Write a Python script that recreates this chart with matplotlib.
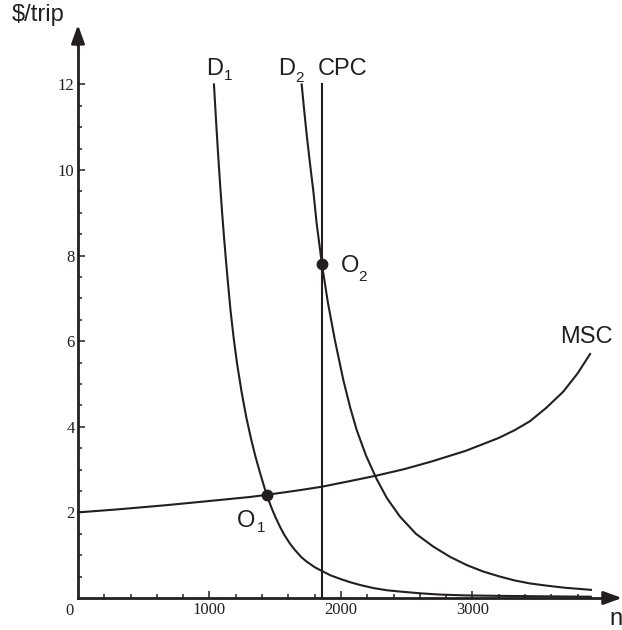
#!/usr/bin/env python3
"""Congestion diagram: two demand curves, MSC and a vertical CPC line."""

import numpy as np
import matplotlib

matplotlib.use("Agg")
import matplotlib.pyplot as plt

# values (x = trips, y = $/trip)
D1_X = [1034, 1050, 1065, 1080, 1095, 1110, 1125, 1140, 1160, 1184, 1210,
        1245, 1280, 1316, 1350, 1384, 1410, 1435, 1470, 1500, 1535, 1570,
        1612, 1650, 1700, 1739, 1800, 1855, 1920, 2000, 2068, 2150, 2250,
        2350, 2450, 2600, 2750, 2950, 3200, 3500, 3900]
D1_Y = [12.0, 11.15, 10.4, 9.7, 9.05, 8.45, 7.9, 7.38, 6.72, 6.07, 5.47,
        4.8, 4.22, 3.72, 3.3, 2.93, 2.66, 2.41, 2.12, 1.9, 1.67, 1.47,
        1.27, 1.12, 0.95, 0.85, 0.72, 0.63, 0.53, 0.44, 0.37, 0.30, 0.23,
        0.18, 0.15, 0.11, 0.08, 0.06, 0.05, 0.04, 0.03]

D2_X = [1701, 1720, 1740, 1764, 1790, 1815, 1835, 1855, 1900, 1954, 2018,
        2070, 2119, 2190, 2271, 2350, 2449, 2570, 2702, 2830, 2956, 3080,
        3209, 3320, 3437, 3560, 3700, 3901]
D2_Y = [12.0, 11.4, 10.8, 10.16, 9.5, 8.75, 8.28, 7.80, 6.91, 6.02, 5.09,
        4.45, 3.93, 3.33, 2.78, 2.33, 1.90, 1.50, 1.20, 0.96, 0.77, 0.62,
        0.50, 0.41, 0.34, 0.29, 0.24, 0.19]

MSC_X = [0, 300, 677, 1011, 1308, 1435, 1688, 1855, 2050, 2271, 2480,
         2690, 2950, 3200, 3320, 3437, 3560, 3690, 3800, 3894]
MSC_Y = [2.0, 2.07, 2.17, 2.27, 2.36, 2.41, 2.52, 2.60, 2.72, 2.86, 3.01,
         3.19, 3.44, 3.74, 3.92, 4.13, 4.44, 4.82, 5.25, 5.70]

CPC_X = 1855
CPC_TOP = 12.0

EQ_X = [1435, 1855]
EQ_Y = [2.41, 7.80]

X_MAJOR = [1000, 2000, 3000]
Y_MAJOR = [2, 4, 6, 8, 10, 12]

INK = "#231f20"
SANS = "Liberation Sans"
SERIF = "Liberation Serif"


def label(ax, x, y, text, sub, sub_dx, sub_dy, size=17):
    ax.text(x, y, text, fontsize=size, family=SANS, color=INK,
            ha="left", va="baseline")
    if sub:
        ax.text(x + sub_dx, y + sub_dy, sub, fontsize=11, family=SANS,
                color=INK, ha="left", va="baseline")


def main() -> None:
    fig = plt.figure(figsize=(6.22, 6.30), dpi=100)
    ax = fig.add_axes([0, 0, 1, 1])
    ax.set_xlim(-593, 4137)
    ax.set_ylim(-0.748, 13.972)

    for side in ("top", "right"):
        ax.spines[side].set_visible(False)
    for side in ("left", "bottom"):
        ax.spines[side].set_position(("data", 0))
        ax.spines[side].set_linewidth(2.0)
        ax.spines[side].set_color(INK)
    ax.spines["left"].set_bounds(0, 13.1)
    ax.spines["bottom"].set_bounds(0, 4030)

    # arrow heads on both axes
    head = dict(arrowstyle="-|>,head_length=0.55,head_width=0.2",
                color=INK, lw=2.0, shrinkA=0, shrinkB=0, mutation_scale=20)
    ax.annotate("", xy=(0, 13.39), xytext=(0, 12.9), arrowprops=head)
    ax.annotate("", xy=(4137, 0), xytext=(4000, 0), arrowprops=head)

    ax.set_xticks(X_MAJOR)
    ax.set_xticklabels([str(v) for v in X_MAJOR], family=SERIF, fontsize=12)
    ax.set_xticks([v for v in range(200, 4000, 200) if v not in X_MAJOR],
                  minor=True)
    ax.set_yticks(Y_MAJOR)
    ax.set_yticklabels([str(v) for v in Y_MAJOR], family=SERIF, fontsize=12)
    ax.set_yticks([v for v in np.arange(0.5, 12, 0.5) if v not in Y_MAJOR],
                  minor=True)
    ax.tick_params(which="both", direction="in", color=INK, width=1.1,
                   labelcolor=INK)
    ax.tick_params(which="major", length=5)
    ax.tick_params(which="minor", length=3)
    ax.tick_params(axis="x", pad=3)
    ax.tick_params(axis="y", pad=2.5)

    ax.text(-68, -0.30, "0", family=SERIF, fontsize=12, color=INK,
            ha="center", va="center")
    ax.text(4040, -0.63, "n", family=SANS, fontsize=17, color=INK,
            ha="left", va="baseline")
    ax.text(-502, 13.48, "$/trip", family=SANS, fontsize=17, color=INK,
            ha="left", va="baseline")

    ax.plot(D1_X, D1_Y, color=INK, lw=1.5, solid_joinstyle="round")
    ax.plot(D2_X, D2_Y, color=INK, lw=1.5, solid_joinstyle="round")
    ax.plot(MSC_X, MSC_Y, color=INK, lw=1.5, solid_joinstyle="round")
    ax.plot([CPC_X, CPC_X], [0, CPC_TOP], color=INK, lw=1.5)
    ax.plot(EQ_X, EQ_Y, "o", color=INK, ms=7.5, zorder=5)

    label(ax, 973, 12.22, "D", "1", 137, -0.12)
    label(ax, 1521, 12.22, "D", "2", 129, -0.16)
    label(ax, 1825, 12.22, "CPC", None, 0, 0)
    label(ax, 3665, 5.96, "MSC", None, 0, 0)
    label(ax, 2000, 7.62, "O", "2", 129, -0.21)
    label(ax, 1209, 1.66, "O", "1", 152, -0.12)

    fig.savefig("out.png", dpi=100)


if __name__ == "__main__":
    main()
